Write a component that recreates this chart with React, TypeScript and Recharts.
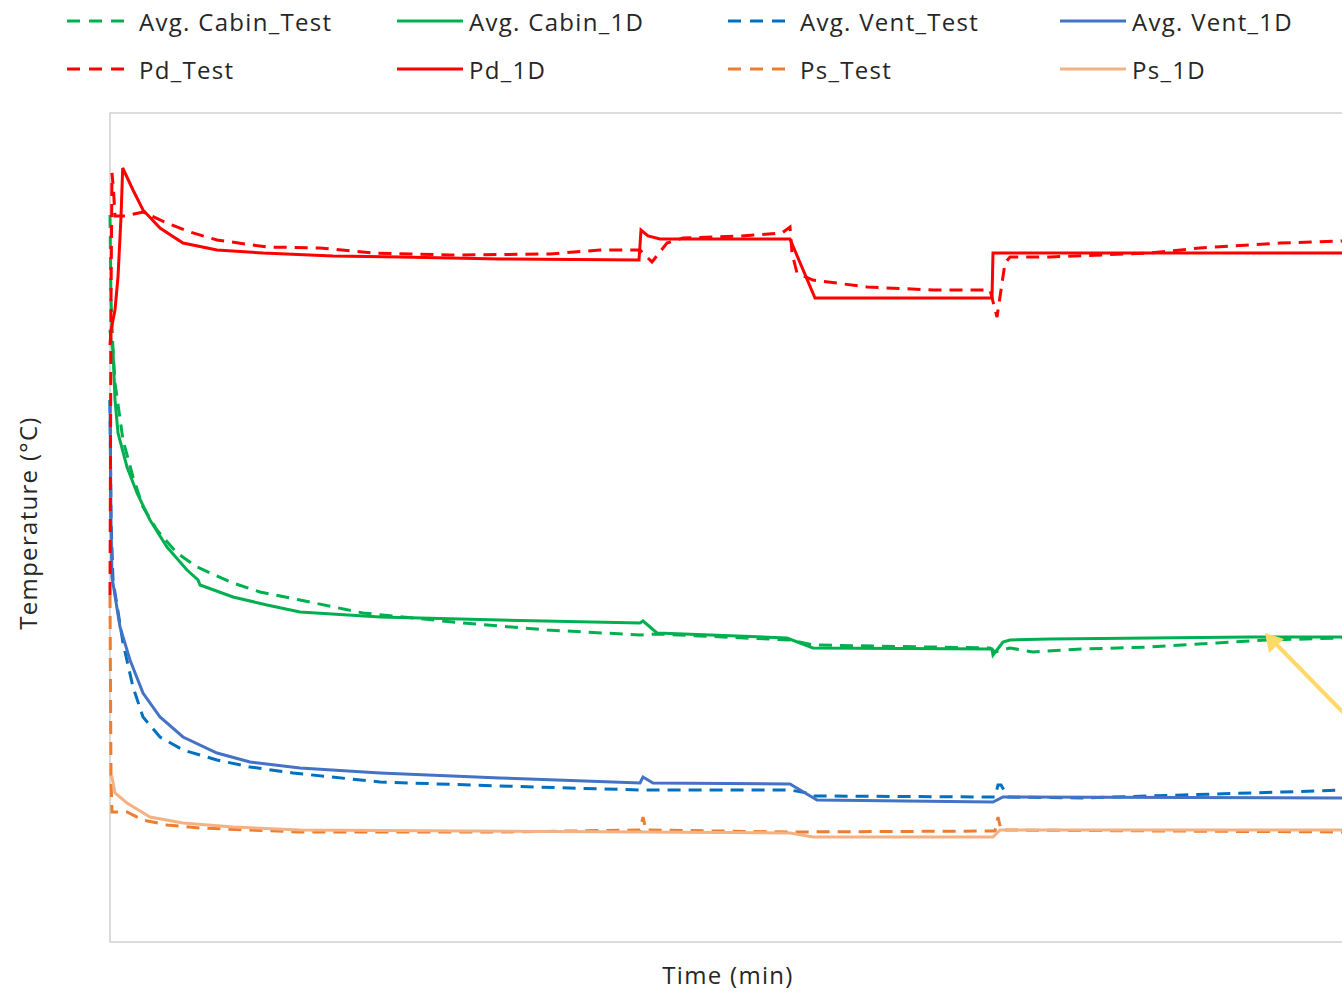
import React from 'react';
import { LineChart, Line, XAxis, YAxis, ReferenceArea } from 'recharts';

// [time (min), temperature] pairs
const pd1D: [number, number][] = [
  [0, 59.7], [0.1, 61.2], [0.5, 63.2], [0.8, 66.5], [1.1, 72.5], [1.27, 77.4], [1.6, 76.7],
  [2.3, 75.2], [3.3, 73.2], [5, 71.4], [7.3, 69.9], [10.7, 69.2], [15.3, 68.9], [22.3, 68.6],
  [29, 68.5], [39, 68.3], [52.9, 68.2], [53.1, 71.2], [53.8, 70.6], [55, 70.3], [68, 70.3],
  [70.5, 64.4], [88.2, 64.4], [88.3, 68.9], [130, 68.9],
];
const pdTest: [number, number][] = [
  [0, 34.7], [0.1, 64.2], [0.2, 76.9], [0.35, 75.2], [0.5, 72.6], [1.5, 72.6], [3.3, 73.0],
  [5.7, 71.9], [8, 71.0], [10.7, 70.2], [15.7, 69.5], [21, 69.4], [26.3, 68.9], [34, 68.7],
  [44, 68.8], [49, 69.2], [53, 69.2], [54.2, 68.0], [55.7, 69.9], [57.3, 70.4], [63, 70.6],
  [67.2, 70.9], [68, 71.5], [68.2, 68.9], [68.7, 66.9], [70.3, 66.2], [75.7, 65.5], [82.3, 65.2],
  [88, 65.2], [88.7, 62.5], [89.5, 67.9], [90, 68.5], [94, 68.5], [104, 68.9], [109, 69.4],
  [117, 69.9], [123.2, 70.1], [130, 70.2],
];
const cabin1D: [number, number][] = [
  [0, 61.2], [0.1, 60.2], [0.3, 59.2], [0.5, 54.2], [0.8, 50.9], [1.7, 47.5], [2.7, 44.9],
  [4, 42.2], [5.7, 39.5], [7.7, 37.2], [8.8, 36.2], [9, 35.7], [12.3, 34.5], [15.7, 33.7],
  [19, 33.0], [27, 32.5], [39, 32.2], [53, 31.9], [53.3, 32.1], [54.7, 30.9], [67.7, 30.4],
  [70.3, 29.4], [88.2, 29.3], [88.3, 28.7], [89.3, 30.0], [90, 30.2], [94, 30.3], [114, 30.5],
  [123.2, 30.5], [130, 30.5],
];
const cabinTest: [number, number][] = [
  [0, 72.7], [0.1, 64.2], [0.3, 59.2], [0.5, 55.9], [1.3, 50.2], [2.3, 46.5], [3.3, 43.5],
  [4.7, 41.2], [6.7, 38.9], [8.7, 37.5], [12.3, 35.9], [15, 35.0], [19, 34.2], [25.3, 32.9],
  [35.3, 31.9], [43.7, 31.2], [53, 30.7], [54.7, 30.8], [68, 30.2], [70.3, 29.7], [88, 29.4],
  [88.5, 29.0], [90, 29.4], [92.3, 29.0], [97.3, 29.3], [104, 29.5], [110.7, 29.9],
  [115.7, 30.2], [123.2, 30.4], [130, 30.4],
];
const vent1D: [number, number][] = [
  [0, 54.2], [0.1, 42.2], [0.2, 36.5], [1, 31.5], [2, 28.2], [3.3, 24.9], [5, 22.5], [7.3, 20.5],
  [10.7, 18.9], [14, 18.0], [19, 17.4], [27, 16.9], [39, 16.4], [53, 15.9], [53.3, 16.5],
  [54.3, 15.9], [68, 15.8], [70.7, 14.2], [88.3, 14.0], [89.3, 14.5], [123.2, 14.4], [130, 14.4],
];
const ventTest: [number, number][] = [
  [0, 54.2], [0.1, 42.2], [0.3, 36.2], [0.5, 34.9], [1.3, 29.9], [2.3, 25.5], [3.3, 22.5],
  [5, 20.5], [7.3, 19.2], [10.7, 18.2], [14, 17.5], [18.3, 16.9], [27, 16.0], [39, 15.6],
  [53, 15.2], [68, 15.2], [69.7, 14.9], [70.3, 14.6], [88.5, 14.5], [88.8, 15.7], [89.1, 15.7],
  [89.8, 14.5], [97.3, 14.4], [107.3, 14.7], [117.3, 15.0], [123.2, 15.2], [130, 15.3],
];
const ps1D: [number, number][] = [
  [0, 16.5], [0.2, 16.5], [0.5, 14.9], [1.7, 13.9], [4, 12.5], [7.3, 11.9], [12.3, 11.5],
  [19, 11.2], [53, 11.0], [68, 10.9], [70.3, 10.5], [88.3, 10.5], [89, 11.2], [130, 11.2],
];
const psTest: [number, number][] = [
  [0, 34.7], [0.1, 16.2], [0.2, 13.0], [1.7, 13.0], [3.3, 12.2], [5.7, 11.7], [9, 11.4],
  [14, 11.2], [19, 11.0], [39, 11.0], [53, 11.2], [53.3, 12.5], [53.6, 11.2], [68, 11.0],
  [88.5, 11.1], [88.8, 12.5], [89.1, 11.2], [123.2, 11.0], [130, 11.0],
];

const toRows = (pts: [number, number][]) => pts.map(([t, v]) => ({ t, v }));

const series = [
  { name: 'Avg. Cabin_Test', data: cabinTest, color: '#00b050', dashed: true },
  { name: 'Avg. Cabin_1D', data: cabin1D, color: '#00b050', dashed: false },
  { name: 'Avg. Vent_Test', data: ventTest, color: '#0070c0', dashed: true },
  { name: 'Avg. Vent_1D', data: vent1D, color: '#4472c4', dashed: false },
  { name: 'Pd_Test', data: pdTest, color: '#ff0000', dashed: true },
  { name: 'Pd_1D', data: pd1D, color: '#ff0000', dashed: false },
  { name: 'Ps_Test', data: psTest, color: '#ed7d31', dashed: true },
  { name: 'Ps_1D', data: ps1D, color: '#f4b183', dashed: false },
];

const DASH = '13 8';
const FONT = '"Open Sans", sans-serif';
const textStyle = { fontSize: 24, letterSpacing: 1.3 };
const legendCols = [67, 397, 728, 1060];
const legendRows = [21, 69];

const App: React.FC = () => {
  return (
    <div
      style={{
        position: 'fixed',
        left: 0,
        top: 0,
        width: 1342,
        height: 993,
        overflow: 'hidden',
        background: '#fff',
        fontFamily: FONT,
        color: '#262626',
      }}
    >
      {/* legend */}
      {series.map((s, i) => (
        <div
          key={s.name}
          style={{
            position: 'absolute',
            left: legendCols[i % 4],
            top: legendRows[Math.floor(i / 4)] - 16,
            height: 32,
            display: 'flex',
            alignItems: 'center',
            whiteSpace: 'nowrap',
            ...textStyle,
          }}
        >
          <svg width={68} height={32}>
            <line
              x1={0}
              x2={66}
              y1={16}
              y2={16}
              stroke={s.color}
              strokeWidth={3}
              strokeDasharray={s.dashed ? '13 9' : undefined}
            />
          </svg>
          <span style={{ marginLeft: 4 }}>{s.name}</span>
        </div>
      ))}

      <div style={{ position: 'absolute', left: 0, top: 0 }}>
        <LineChart width={1420} height={993} margin={{ top: 113, right: 10, bottom: 51, left: 110 }}>
          <XAxis type="number" dataKey="t" domain={[0, 130]} hide allowDuplicatedCategory={false} />
          <YAxis type="number" domain={[0, 82.9]} hide />
          <ReferenceArea x1={0} x2={130} y1={0} y2={82.9} fill="none" stroke="#d0d0d0" strokeWidth={1.5} />
          {series.map((s) => (
            <Line
              key={s.name}
              data={toRows(s.data)}
              dataKey="v"
              name={s.name}
              type="linear"
              stroke={s.color}
              strokeWidth={3}
              strokeDasharray={s.dashed ? DASH : undefined}
              dot={false}
              activeDot={false}
              isAnimationActive={false}
            />
          ))}
        </LineChart>
      </div>

      {/* annotation arrow */}
      <svg style={{ position: 'absolute', left: 0, top: 0 }} width={1342} height={993}>
        <line x1={1380} y1={750} x2={1276} y2={644} stroke="#ffd966" strokeWidth={4} />
        <polygon points="1265,633 1269,653 1284,639" fill="#ffd966" />
      </svg>

      <div
        style={{
          position: 'absolute',
          left: 0,
          width: 1456,
          top: 958,
          textAlign: 'center',
          ...textStyle,
        }}
      >
        Time (min)
      </div>
      <div
        style={{
          position: 'absolute',
          left: 27,
          top: 523,
          transform: 'translate(-50%, -50%) rotate(-90deg)',
          whiteSpace: 'nowrap',
          ...textStyle,
        }}
      >
        Temperature (°C)
      </div>
    </div>
  );
};

export default App;
